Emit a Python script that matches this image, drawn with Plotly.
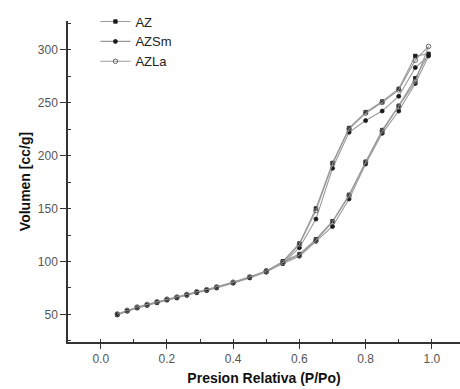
import plotly.graph_objects as go

# Relative pressure points: adsorption branch (up) then desorption branch (down)
p_ads = [0.05, 0.08, 0.11, 0.14, 0.17, 0.20, 0.23, 0.26, 0.29, 0.32, 0.35, 0.40, 0.45,
         0.50, 0.55, 0.60, 0.65, 0.70, 0.75, 0.80, 0.85, 0.90, 0.95, 0.99]
p_des = [0.95, 0.90, 0.85, 0.80, 0.75, 0.70, 0.65, 0.60, 0.55, 0.50]

az_ads = [50, 53.5, 56.5, 59, 61.5, 64, 66, 68.5, 71, 73, 75.5, 80, 85,
          91, 100, 107, 121, 138, 163, 194, 224, 247, 273, 296]
az_des = [294, 263, 251, 241, 226, 193, 150, 117, 100, 91]

azsm_ads = [49.5, 53, 56, 58.5, 61, 63.5, 65.5, 68, 70.5, 72.5, 75, 79.5, 84.5,
            90, 98, 105, 119, 133, 159, 192, 221, 242, 268, 294]
azsm_des = [283, 256, 242, 233, 222, 188, 140, 113, 98, 90]

azla_ads = [50.5, 54, 57, 59.5, 62, 64.5, 66.5, 69, 71.5, 73.5, 76, 80.5, 85.5,
            91, 99, 106, 120, 137, 162, 194, 223, 246, 270, 303]
azla_des = [290, 262, 250, 240, 225, 192, 148, 116, 99, 91]

series_names = ["AZ", "AZSm", "AZLa"]

x_tickvals = [0.0, 0.2, 0.4, 0.6, 0.8, 1.0]
x_ticktext = ["0.0", "0.2", "0.4", "0.6", "0.8", "1.0"]
y_tickvals = [50, 100, 150, 200, 250, 300]

fig = go.Figure()

styles = [
    dict(symbol="square", size=3.5, color="#1a1a1a", line=dict(color="#1a1a1a", width=0.8)),
    dict(symbol="circle", size=4, color="#1a1a1a", line=dict(color="#1a1a1a", width=0.8)),
    dict(symbol="circle-open", size=4.5, color="#666666", line=dict(color="#666666", width=1)),
]
data = [(az_ads, az_des), (azsm_ads, azsm_des), (azla_ads, azla_des)]

for name, (ads, des), mk in zip(series_names, data, styles):
    fig.add_trace(go.Scatter(
        x=p_ads + p_des, y=ads + des, name=name, mode="lines+markers",
        line=dict(color="#9a9a9a", width=1.1),
        marker=mk,
    ))

axis_font = dict(family="Liberation Sans, Arial, sans-serif", size=12, color="#555555")
title_font = dict(family="Liberation Sans, Arial, sans-serif", size=14, color="#111111")

fig.update_layout(
    width=460, height=389,
    margin=dict(l=68, r=0, t=21, b=47),
    paper_bgcolor="white", plot_bgcolor="white",
    showlegend=True,
    legend=dict(x=0.07, y=1.045, xanchor="left", yanchor="top",
                bgcolor="rgba(0,0,0,0)",
                font=dict(family="Liberation Sans, Arial, sans-serif", size=13, color="#222222"),
                tracegroupgap=0, itemwidth=30),
    xaxis=dict(range=[-0.0988, 1.085], tickvals=x_tickvals, ticktext=x_ticktext,
               showgrid=False, zeroline=False, showline=True, linecolor="#333333", linewidth=1.5,
               ticks="outside", ticklen=5, tickwidth=1.2, tickcolor="#333333",
               minor=dict(dtick=0.1, tick0=0, ticks="inside", ticklen=3, tickcolor="#333333", showgrid=False),
               tickfont=axis_font,
               title=dict(text="<b>Presion Relativa (P/Po)</b>", font=title_font, standoff=8)),
    yaxis=dict(range=[24, 327], tickvals=y_tickvals,
               showgrid=False, zeroline=False, showline=True, linecolor="#333333", linewidth=1.5,
               ticks="outside", ticklen=6, tickwidth=1.2, tickcolor="#333333",
               minor=dict(dtick=25, tick0=0, ticks="inside", ticklen=3, tickcolor="#333333", showgrid=False),
               tickfont=axis_font,
               title=dict(text="<b>Volumen [cc/g]</b>", font=title_font, standoff=4)),
)

fig.write_html("out.html", config={"displayModeBar": False},
               post_script="document.body.style.margin='0';document.body.style.overflow='hidden';")
